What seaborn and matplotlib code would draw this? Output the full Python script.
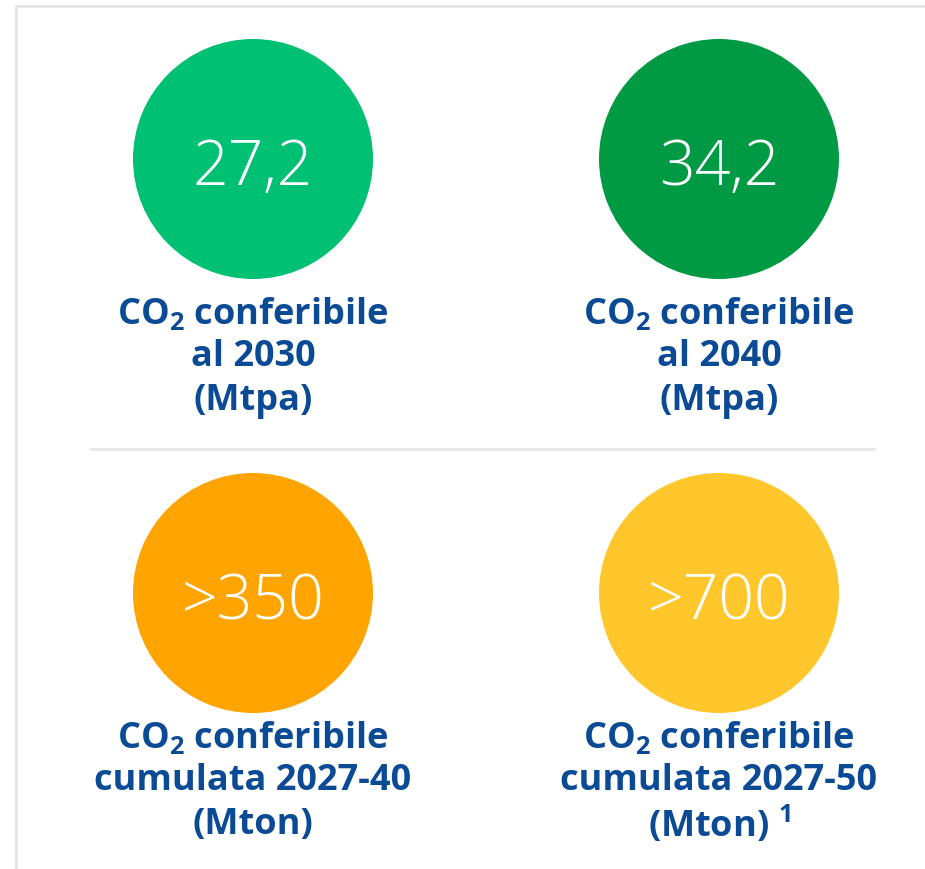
import matplotlib
matplotlib.use("Agg")
import matplotlib.pyplot as plt
import seaborn as sns
import pandas as pd

# values shown in the four circles
values = ["27,2", "34,2", ">350", ">700"]
colors = ["#00C073", "#009A44", "#FFA400", "#FFC72C"]
col = [0, 1, 0, 1]
row = [0, 0, 1, 1]
line2 = ["al 2030", "al 2040", "cumulata 2027-40", "cumulata 2027-50"]
line3 = ["(Mtpa)", "(Mtpa)", "(Mton)", "(Mton) $^{\\mathbf{1}}$"]

sns.set_theme(style="white")
plt.rcParams["font.family"] = ["Open Sans", "DejaVu Sans"]
plt.rcParams["mathtext.fontset"] = "custom"
plt.rcParams["mathtext.rm"] = "Open Sans"
plt.rcParams["mathtext.bf"] = "Open Sans:bold"

W, H = 925, 869
col_x = [253, 719]
row_y = [159, 593]
label_y = [314, 738]
blue = "#0B4A94"

df = pd.DataFrame({
    "x": [col_x[c] for c in col],
    "y": [row_y[r] for r in row],
    "value": values,
})

fig = plt.figure(figsize=(W / 100, H / 100), dpi=100)
ax = fig.add_axes([0, 0, 1, 1])
ax.set_xlim(0, W)
ax.set_ylim(H, 0)
ax.axis("off")

# circles: diameter 240 px -> points at dpi 100
diam_pt = 240 * 72 / 100
sns.scatterplot(data=df, x="x", y="y", hue="value", palette=colors,
                s=diam_pt ** 2, linewidth=0, legend=False, ax=ax, zorder=2)

# frame lines and separator
ax.plot([16, 16, W], [H, 6, 6], color="#e6e6e6", lw=2.2, zorder=1,
        solid_capstyle="butt")
ax.plot([91, 874], [448.5, 448.5], color="#e8e8e8", lw=2.4, zorder=1)

for i, v in enumerate(values):
    x = col_x[col[i]]
    y = row_y[row[i]]
    ax.text(x, y + 26, v, color="white", fontsize=45, fontweight="light",
            ha="center", va="baseline", zorder=3)
    ly = label_y[row[i]]
    lines = ["CO$_{\\mathbf{2}}$ conferibile", line2[i], line3[i]]
    for k, t in enumerate(lines):
        ax.text(x, ly + k * 43.5, t, color=blue, fontsize=26,
                fontweight="bold", ha="center", va="center", zorder=3)

fig.savefig("out.png", dpi=100, facecolor="white")
